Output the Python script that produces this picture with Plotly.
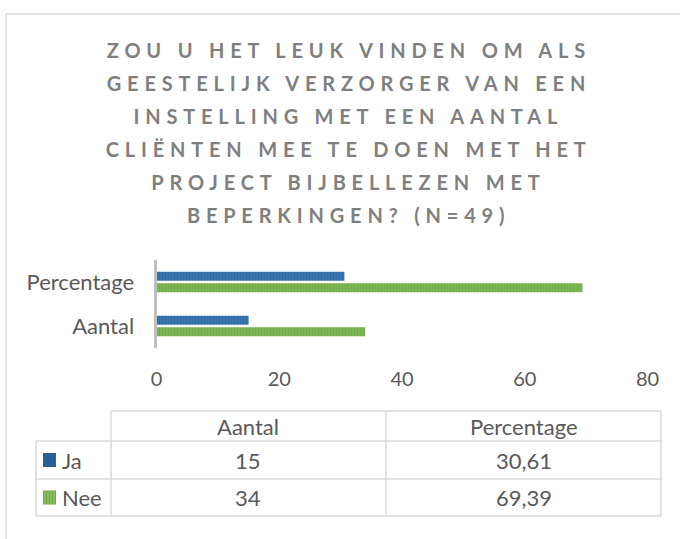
import plotly.graph_objects as go

# data
categories = ["Aantal", "Percentage"]
ja_values = [15, 30.61]
nee_values = [34, 69.39]
series_names = ["Ja", "Nee"]
x_ticks = [0, 20, 40, 60, 80]
title_lines = [
    "ZOU U HET LEUK VINDEN OM ALS",
    "GEESTELIJK VERZORGER VAN EEN",
    "INSTELLING MET EEN AANTAL",
    "CLIËNTEN MEE TE DOEN MET HET",
    "PROJECT BIJBELLEZEN MET",
    "BEPERKINGEN? (N=49)",
]

W, H = 680, 539
FONT = "Lato"
TXT = "#595959"
GRID = "#D9D9D9"
BLUE, BLUE_FG = "#2E6AA6", "#5B8DC4"
GREEN, GREEN_FG = "#70AD47", "#9CCB7A"
TITLE_SPACING = 5.8


def px(x):
    return x / W


def py(y):
    return 1 - y / H


fig = go.Figure()

# Nee first so that Ja ends up on top inside each group
fig.add_trace(go.Bar(
    y=categories, x=nee_values, name="Nee", orientation="h",
    marker=dict(color=GREEN, line_width=0,
                pattern=dict(shape="|", fgcolor=GREEN_FG, bgcolor=GREEN, size=3, solidity=0.35)),
))
fig.add_trace(go.Bar(
    y=categories, x=ja_values, name="Ja", orientation="h",
    marker=dict(color=BLUE, line_width=0,
                pattern=dict(shape="|", fgcolor=BLUE_FG, bgcolor=BLUE, size=3, solidity=0.35)),
))

shapes = []
annotations = []

# chart border (top and left visible)
shapes.append(dict(type="line", xref="paper", yref="paper", x0=px(6), x1=px(W), y0=py(14), y1=py(14),
                   line=dict(color=GRID, width=1.5)))
shapes.append(dict(type="line", xref="paper", yref="paper", x0=px(6), x1=px(6), y0=py(14), y1=py(H),
                   line=dict(color=GRID, width=1.5)))

# title, one annotation per line
for i, line in enumerate(title_lines):
    annotations.append(dict(
        text=line, xref="paper", yref="paper", x=px(346 + TITLE_SPACING / 2), y=py(50 + i * 33),
        xanchor="center", yanchor="middle", showarrow=False,
        font=dict(family=FONT, size=20, color="#7F7F7F", weight="bold"),
    ))

# data table
col_x = [36, 111, 386, 661]
row_y = [411, 441, 479, 516]
tl = dict(color=GRID, width=1.5)
shapes.append(dict(type="line", xref="paper", yref="paper", x0=px(col_x[1]), x1=px(col_x[3]),
                   y0=py(row_y[0]), y1=py(row_y[0]), line=tl))
for yy in row_y[1:]:
    shapes.append(dict(type="line", xref="paper", yref="paper", x0=px(col_x[0]), x1=px(col_x[3]),
                       y0=py(yy), y1=py(yy), line=tl))
shapes.append(dict(type="line", xref="paper", yref="paper", x0=px(col_x[0]), x1=px(col_x[0]),
                   y0=py(row_y[1]), y1=py(row_y[3]), line=tl))
for xx in col_x[1:]:
    shapes.append(dict(type="line", xref="paper", yref="paper", x0=px(xx), x1=px(xx),
                       y0=py(row_y[0]), y1=py(row_y[3]), line=tl))

cell_font = dict(family=FONT, size=22, color=TXT)
for j, cat in enumerate(categories):
    cx = (col_x[j + 1] + col_x[j + 2]) / 2
    annotations.append(dict(text=cat, xref="paper", yref="paper", x=px(cx),
                            y=py((row_y[0] + row_y[1]) / 2), xanchor="center", yanchor="middle",
                            showarrow=False, font=cell_font))

rows = [(series_names[0], ja_values, BLUE, "#1F4E80"), (series_names[1], nee_values, GREEN, GREEN_FG)]
for r, (name, vals, c, fg) in enumerate(rows):
    cy = (row_y[r + 1] + row_y[r + 2]) / 2
    # legend key with stripes
    shapes.append(dict(type="rect", xref="paper", yref="paper", x0=px(43), x1=px(56),
                       y0=py(cy - 7), y1=py(cy + 7), fillcolor=c, line_width=0))
    for sx in [45, 48, 51, 54]:
        shapes.append(dict(type="line", xref="paper", yref="paper", x0=px(sx), x1=px(sx),
                           y0=py(cy - 7), y1=py(cy + 7), line=dict(color=fg, width=1)))
    annotations.append(dict(text=name, xref="paper", yref="paper", x=px(60), y=py(cy),
                            xanchor="left", yanchor="middle", showarrow=False, font=cell_font))
    for j, v in enumerate(vals):
        cx = (col_x[j + 1] + col_x[j + 2]) / 2
        label = f"{v:g}".replace(".", ",")
        annotations.append(dict(text=label, xref="paper", yref="paper", x=px(cx), y=py(cy),
                                xanchor="center", yanchor="middle", showarrow=False, font=cell_font))

fig.update_layout(
    width=W, height=H,
    margin=dict(l=0, r=0, t=0, b=0, autoexpand=False),
    paper_bgcolor="white", plot_bgcolor="white",
    barmode="group", bargap=0.48, bargroupgap=0.2,
    showlegend=False,
    font=dict(family=FONT, color=TXT),
    shapes=shapes, annotations=annotations,
    xaxis=dict(domain=[px(156.5), px(647.6)], range=[0, 80], tickvals=x_ticks,
               showgrid=False, zeroline=False, showline=False, ticks="",
               tickfont=dict(size=20, color=TXT), ticklabelstandoff=17, automargin=False),
    yaxis=dict(domain=[py(348), py(260)], showgrid=False, zeroline=False,
               showline=True, linecolor="#BFBFBF", linewidth=3, ticks="",
               tickfont=dict(size=22, color=TXT), ticklabelstandoff=15, automargin=False),
)

# no page margin / scrollbars, and letter spacing for the bold title lines
post = """
document.documentElement.style.overflow = 'hidden';
document.body.style.margin = '0';
document.body.style.overflow = 'hidden';
document.querySelectorAll('.annotation-text').forEach(function(t){
  var w = t.style.fontWeight;
  if (w === 'bold' || w === '700') { t.style.letterSpacing = '%spx'; }
});
""" % TITLE_SPACING

fig.write_html("out.html", post_script=post, config={"displayModeBar": False})
